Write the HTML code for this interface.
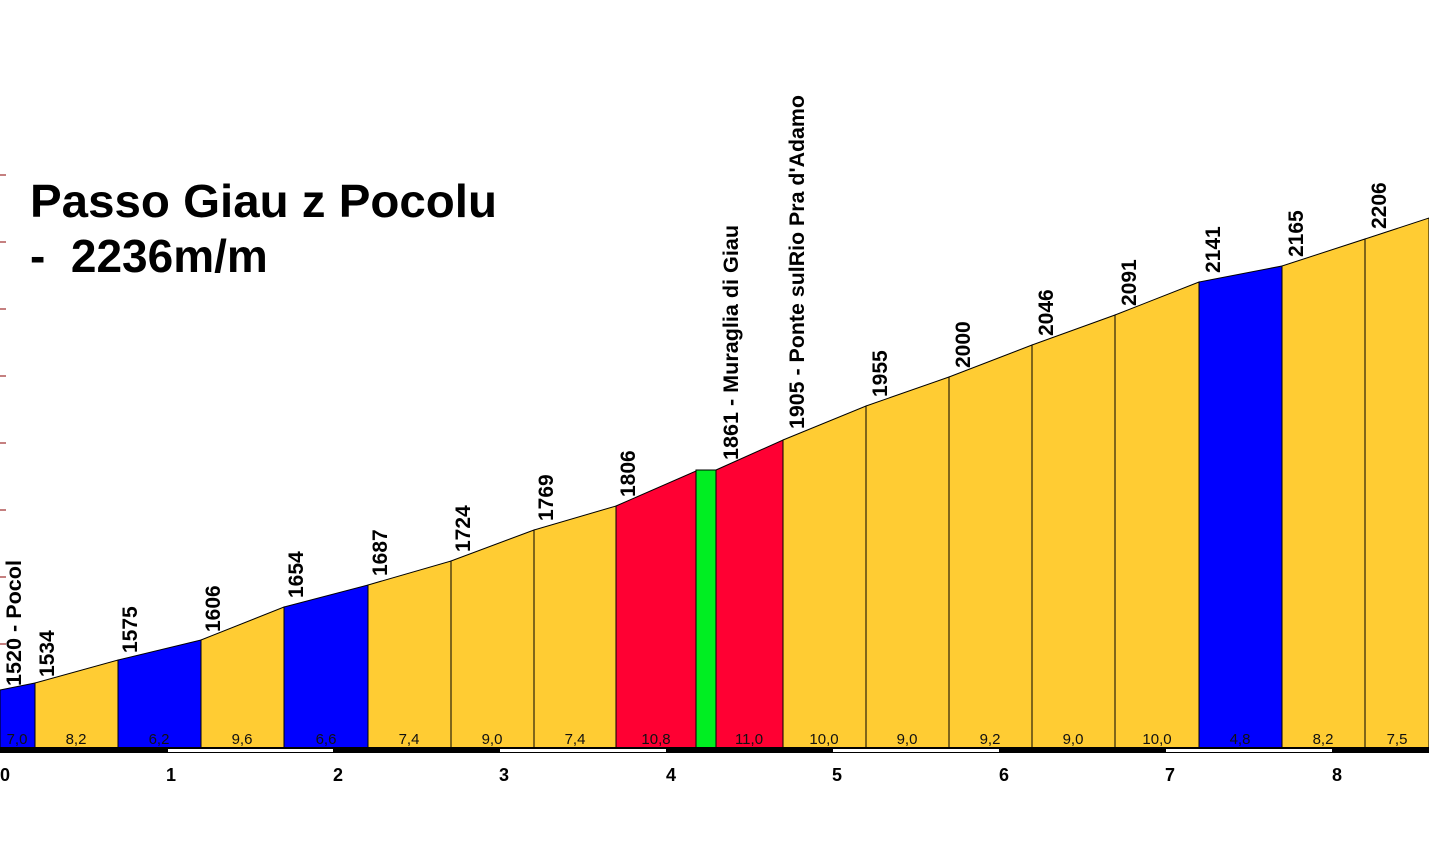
<!DOCTYPE html>
<html><head><meta charset="utf-8"><style>
html,body{margin:0;padding:0;background:#fff;}
svg{display:block;font-family:"Liberation Sans",sans-serif;}
</style></head><body>
<svg width="1429" height="849" viewBox="0 0 1429 849" xmlns="http://www.w3.org/2000/svg">
<rect width="1429" height="849" fill="#fff"/>
<g stroke="#000" stroke-width="1">
<polygon points="0,748 0,690 35,683 35,748" fill="#0000ff"/>
<polygon points="35,748 35,683 118,660 118,748" fill="#ffcc33"/>
<polygon points="118,748 118,660 201,640 201,748" fill="#0000ff"/>
<polygon points="201,748 201,640 284,607 284,748" fill="#ffcc33"/>
<polygon points="284,748 284,607 368,585 368,748" fill="#0000ff"/>
<polygon points="368,748 368,585 451,561 451,748" fill="#ffcc33"/>
<polygon points="451,748 451,561 534,530 534,748" fill="#ffcc33"/>
<polygon points="534,748 534,530 616,506 616,748" fill="#ffcc33"/>
<polygon points="616,748 616,506 696,471 696,748" fill="#ff0033"/>
<polygon points="696,748 696,470 716,470 716,748" fill="#00ee22"/>
<polygon points="716,748 716,470 783,440 783,748" fill="#ff0033"/>
<polygon points="783,748 783,440 866,406 866,748" fill="#ffcc33"/>
<polygon points="866,748 866,406 949,377 949,748" fill="#ffcc33"/>
<polygon points="949,748 949,377 1032,345 1032,748" fill="#ffcc33"/>
<polygon points="1032,748 1032,345 1115,315 1115,748" fill="#ffcc33"/>
<polygon points="1115,748 1115,315 1199,282 1199,748" fill="#ffcc33"/>
<polygon points="1199,748 1199,282 1282,266 1282,748" fill="#0000ff"/>
<polygon points="1282,748 1282,266 1365,239 1365,748" fill="#ffcc33"/>
<polygon points="1365,748 1365,239 1429,218 1429,748" fill="#ffcc33"/>
</g>
<g stroke="#8b0000" stroke-width="1">
<line x1="0" y1="175" x2="6" y2="175"/><line x1="0" y1="242" x2="6" y2="242"/><line x1="0" y1="309" x2="6" y2="309"/><line x1="0" y1="376" x2="6" y2="376"/><line x1="0" y1="443" x2="6" y2="443"/><line x1="0" y1="510" x2="6" y2="510"/><line x1="0" y1="577" x2="6" y2="577"/><line x1="0" y1="644" x2="6" y2="644"/>
</g>
<rect x="0" y="747" width="1429" height="6" fill="#000"/>
<g fill="#fff"><rect x="168" y="749" width="165" height="3"/><rect x="500" y="749" width="166" height="3"/><rect x="833" y="749" width="166" height="3"/><rect x="1166" y="749" width="166" height="3"/></g>
<g font-size="15" text-anchor="middle" fill="#111">
<text x="17" y="744">7,0</text><text x="76" y="744">8,2</text><text x="159" y="744">6,2</text><text x="242" y="744">9,6</text><text x="326" y="744">6,6</text><text x="409" y="744">7,4</text><text x="492" y="744">9,0</text><text x="575" y="744">7,4</text><text x="656" y="744">10,8</text><text x="749" y="744">11,0</text><text x="824" y="744">10,0</text><text x="907" y="744">9,0</text><text x="990" y="744">9,2</text><text x="1073" y="744">9,0</text><text x="1157" y="744">10,0</text><text x="1240" y="744">4,8</text><text x="1323" y="744">8,2</text><text x="1397" y="744">7,5</text>
</g>
<g font-size="18" font-weight="bold" text-anchor="middle">
<text x="5" y="781">0</text><text x="171" y="781">1</text><text x="338" y="781">2</text><text x="504" y="781">3</text><text x="671" y="781">4</text><text x="837" y="781">5</text><text x="1004" y="781">6</text><text x="1170" y="781">7</text><text x="1337" y="781">8</text>
</g>
<g font-size="21" font-weight="bold" fill="#000">
<text transform="translate(21,686) rotate(-90)" textLength="126" lengthAdjust="spacingAndGlyphs">1520 - Pocol</text>
<text transform="translate(54,677) rotate(-90)">1534</text>
<text transform="translate(137,653) rotate(-90)">1575</text>
<text transform="translate(220,632) rotate(-90)">1606</text>
<text transform="translate(303,598) rotate(-90)">1654</text>
<text transform="translate(387,576) rotate(-90)">1687</text>
<text transform="translate(470,552) rotate(-90)">1724</text>
<text transform="translate(553,521) rotate(-90)">1769</text>
<text transform="translate(635,497) rotate(-90)">1806</text>
<text transform="translate(738,460) rotate(-90)" textLength="235" lengthAdjust="spacingAndGlyphs">1861 - Muraglia di Giau</text>
<text transform="translate(804,429) rotate(-90)" textLength="334" lengthAdjust="spacingAndGlyphs">1905 - Ponte sulRio Pra d'Adamo</text>
<text transform="translate(887,397) rotate(-90)">1955</text>
<text transform="translate(970,368) rotate(-90)">2000</text>
<text transform="translate(1053,336) rotate(-90)">2046</text>
<text transform="translate(1136,306) rotate(-90)">2091</text>
<text transform="translate(1220,273) rotate(-90)">2141</text>
<text transform="translate(1303,257) rotate(-90)">2165</text>
<text transform="translate(1386,229) rotate(-90)">2206</text>
</g>
<text x="30" y="217" font-size="46" font-weight="bold" textLength="467" lengthAdjust="spacingAndGlyphs">Passo Giau z Pocolu</text>
<text x="30" y="272" font-size="46" font-weight="bold" xml:space="preserve">-  2236m/m</text>
</svg>
</body></html>
